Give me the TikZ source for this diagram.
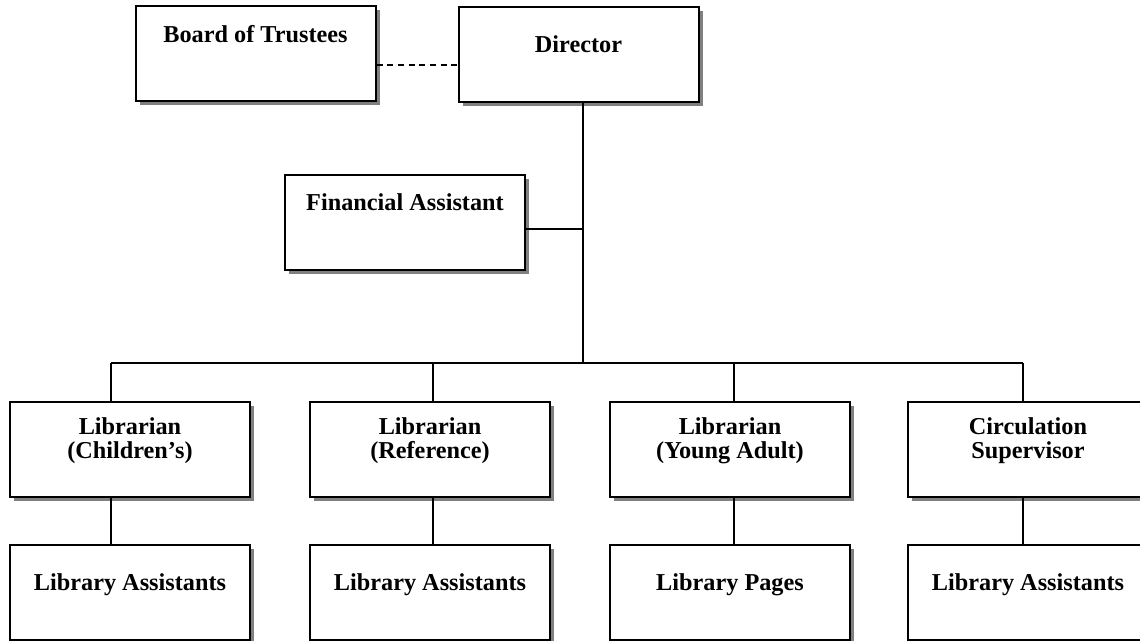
\documentclass[tikz,border=0pt]{standalone}
\usepackage{fontspec}
\setmainfont{Liberation Serif}
\usetikzlibrary{shadows}
\def\px{0.75pt}
\begin{document}
\begin{tikzpicture}[x=\px,y=-\px]
  \tikzset{post/.style={draw,line width=1.5pt,fill=white,minimum width=240*\px,minimum height=95*\px,
      drop shadow={shadow xshift=4*\px,shadow yshift=-4*\px,fill=black!50,opacity=1}},
    title/.style={anchor=base,inner sep=0pt,align=center,font=\bfseries\fontsize{18.2}{18}\selectfont},
    link/.style={line width=1.5pt}}
  \useasboundingbox (0,0) rectangle (1140,641);

  \node[post] (board) at (255.5,54) {};
  \node[title] (boardtxt) at ([yshift=-37*\px]board.north) {Board of Trustees};
  \node[post] (dir) at (578.5,54.5) {};
  \node[title] (dirtxt) at ([yshift=-47*\px]dir.north) {Director};
  \node[post] (fin) at (405,222.5) {};
  \node[title] (fintxt) at ([yshift=-37*\px]fin.north) {Financial Assistant};

  \node[post] (libch) at (130,449.5) {};
  \node[title] (libchtxt) at ([yshift=-58*\px]libch.north) {Librarian\\(Children’s)};
  \node[post] (libref) at (430,449.5) {};
  \node[title] (libreftxt) at ([yshift=-58*\px]libref.north) {Librarian\\(Reference)};
  \node[post] (libya) at (730,449.5) {};
  \node[title] (libyatxt) at ([yshift=-58*\px]libya.north) {Librarian\\(Young Adult)};
  \node[post] (circ) at (1028,449.5) {};
  \node[title] (circtxt) at ([yshift=-58*\px]circ.north) {Circulation\\Supervisor};

  \node[post] (asstch) at (130,592.5) {};
  \node[title] (asstchtxt) at ([yshift=-47*\px]asstch.north) {Library Assistants};
  \node[post] (asstref) at (430,592.5) {};
  \node[title] (assttreftxt) at ([yshift=-47*\px]asstref.north) {Library Assistants};
  \node[post] (pages) at (730,592.5) {};
  \node[title] (pagestxt) at ([yshift=-47*\px]pages.north) {Library Pages};
  \node[post] (asstcirc) at (1028,592.5) {};
  \node[title] (asstcirctxt) at ([yshift=-47*\px]asstcirc.north) {Library Assistants};

  \coordinate (dash) at (0,65);
  \coordinate (spine) at (583,363);
  \coordinate (finjoin) at (583,229);
  \coordinate (dropch) at (111,363);
  \coordinate (dropref) at (433,363);
  \coordinate (dropya) at (734,363);
  \coordinate (dropcirc) at (1023,363);

  \draw[link,dash pattern=on 4.5pt off 3.5pt] (board.east |- dash) -- (dir.west |- dash);
  \draw[link] (dir.south -| spine) -- (spine);
  \draw[link] (fin.east |- finjoin) -- (finjoin);
  \draw[link] (dropch) -- (dropcirc);
  \draw[link] (dropch) -- (libch.north -| dropch);
  \draw[link] (dropref) -- (libref.north -| dropref);
  \draw[link] (dropya) -- (libya.north -| dropya);
  \draw[link] (dropcirc) -- (circ.north -| dropcirc);
  \draw[link] (libch.south -| dropch) -- (asstch.north -| dropch);
  \draw[link] (libref.south -| dropref) -- (asstref.north -| dropref);
  \draw[link] (libya.south -| dropya) -- (pages.north -| dropya);
  \draw[link] (circ.south -| dropcirc) -- (asstcirc.north -| dropcirc);
\end{tikzpicture}
\end{document}
